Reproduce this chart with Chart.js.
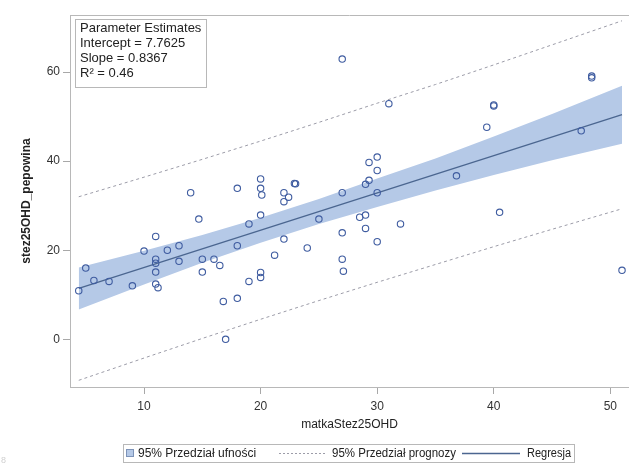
<!DOCTYPE html>
<html>
<head>
<meta charset="utf-8">
<script src="https://cdn.jsdelivr.net/npm/chart.js@4.4.1/dist/chart.umd.min.js"></script>
<style>
  body { margin: 0; background: #fff; }
</style>
</head>
<body>
<canvas id="regChart" width="629" height="467"></canvas>
<script>
// tick labels
const xTicks = [10, 20, 30, 40, 50]
const yTicks = [0, 20, 40, 60]

const obsX = [14.0, 18.0, 14.7, 11.0, 19.0, 10.0, 12.0, 13.0, 18.0, 11.0, 11.0, 13.0, 15.0, 16.0, 16.5, 5.0,
              11.0, 15.0, 5.7, 7.0, 4.4, 9.0, 11.0, 11.2, 19.0, 16.8, 18.0, 17.0,
              27.0, 31.0, 30.0, 29.3, 30.0, 29.3, 29.0, 20.0, 20.0, 20.1, 23.0, 22.9, 22.0, 22.4, 22.0, 27.0,
              30.0, 20.0, 25.0, 28.5, 29.0, 32.0, 27.0, 29.0, 22.0, 30.0, 24.0, 21.2, 27.0, 27.1, 20.0, 20.0,
              48.4, 48.4, 40.0, 40.0, 39.4, 47.5, 36.8, 40.5, 51.0]
const obsY = [32.9, 33.9, 27.0, 23.1, 25.9, 19.8, 20.0, 21.0, 21.0, 18.0, 17.1, 17.5, 18.0, 18.0, 16.6, 16.0,
              15.1, 15.1, 13.2, 13.0, 10.9, 12.0, 12.4, 11.6, 13.0, 8.5, 9.2, 0.0,
              62.9, 52.9, 40.9, 39.7, 37.9, 35.7, 34.8, 36.0, 33.9, 32.4, 34.9, 35.0, 32.9, 31.9, 30.9, 32.9,
              32.9, 27.9, 27.0, 27.4, 27.9, 25.9, 23.9, 24.9, 22.5, 21.9, 20.5, 18.9, 18.0, 15.3, 15.0, 13.9,
              58.7, 59.1, 52.4, 52.6, 47.6, 46.8, 36.7, 28.5, 15.5]

// fitted line and bands
const regX = [4.4, 51.0]
const regY = [11.44, 50.43]
const bandX  = [4.4, 10, 15, 20, 25, 30, 35, 40, 45, 51]
const ciHigh = [16.1, 19.9, 23.4, 27.3, 31.5, 36.1, 40.6, 45.5, 50.6, 56.9]
const ciLow  = [6.7, 12.3, 17.2, 21.7, 25.9, 29.7, 33.4, 36.9, 40.2, 43.9]
const piHigh = [32.0, 36.4, 40.4, 44.5, 48.7, 53.0, 57.2, 61.6, 66.1, 71.5]
const piLow  = [-9.2, -4.2, 0.2, 4.5, 8.7, 12.8, 16.8, 20.8, 24.7, 29.3]

const statLines = ['Parameter Estimates', 'Intercept = 7.7625', 'Slope = 0.8367', 'R\u00b2 = 0.46']

const FONT = '"Liberation Sans", Arial, sans-serif'
const bandColor = '#b5c9e7'
const lineColor = '#4b6690'
const dashColor = '#9c9ca8'

const pts = (xs, ys) => xs.map((x, i) => ({x: x, y: ys[i]}))

const decor = {
    id: 'decor',
    afterDraw(chart) {
        const ctx = chart.ctx
        const a = chart.chartArea
        ctx.save()
        // frame top
        ctx.strokeStyle = '#b8b8b8'
        ctx.lineWidth = 1
        ctx.beginPath()
        ctx.moveTo(a.left, a.top + 0.5)
        ctx.lineTo(a.right, a.top + 0.5)
        ctx.stroke()

        // inset with parameter estimates
        ctx.fillStyle = '#fff'
        ctx.fillRect(75, 19, 131, 68)
        ctx.strokeStyle = '#b8b8b8'
        ctx.strokeRect(75.5, 19.5, 131, 68)
        ctx.fillStyle = '#222'
        ctx.font = '13px ' + FONT
        ctx.textBaseline = 'middle'
        ctx.textAlign = 'left'
        statLines.forEach((t, i) => {
            ctx.fillText(t, 80, 28 + i * 15.3, 122)
        })

        // axis titles
        ctx.font = '12px ' + FONT
        ctx.textAlign = 'center'
        ctx.fillText('matkaStez25OHD', (a.left + a.right) / 2, 425)
        ctx.save()
        ctx.translate(27, (a.top + a.bottom) / 2)
        ctx.rotate(-Math.PI / 2)
        ctx.font = 'bold 12px ' + FONT
        ctx.fillText('stez25OHD_pepowina', 0, 0)
        ctx.restore()

        // legend
        const ly = 453.5
        ctx.strokeStyle = '#b8b8b8'
        ctx.strokeRect(123.5, 444.5, 451, 18)
        ctx.fillStyle = bandColor
        ctx.fillRect(126, 449, 8, 8)
        ctx.strokeStyle = '#7d93b8'
        ctx.strokeRect(126.5, 449.5, 7, 7)
        ctx.fillStyle = '#222'
        ctx.textAlign = 'left'
        ctx.fillText('95% Przedział ufności', 138, ly, 129)
        ctx.strokeStyle = dashColor
        ctx.setLineDash([2, 2])
        ctx.beginPath()
        ctx.moveTo(279, ly)
        ctx.lineTo(325, ly)
        ctx.stroke()
        ctx.setLineDash([])
        ctx.fillText('95% Przedział prognozy', 332, ly, 124)
        ctx.strokeStyle = lineColor
        ctx.lineWidth = 1.3
        ctx.beginPath()
        ctx.moveTo(462, ly)
        ctx.lineTo(520, ly)
        ctx.stroke()
        ctx.fillText('Regresja', 527, ly, 44)

        ctx.fillStyle = '#d0d0d0'
        ctx.font = '9px ' + FONT
        ctx.fillText('8', 1, 461)
        ctx.restore()
    }
}

const ctx = document.getElementById('regChart').getContext('2d')
const regChart = new Chart(ctx, {
    type: 'scatter',
    data: {
        datasets: [{
            label: 'obs',
            data: pts(obsX, obsY),
            pointRadius: 3.2,
            pointBorderWidth: 1.1,
            pointBorderColor: '#3f5ca0',
            pointBackgroundColor: 'rgba(0,0,0,0)',
            order: 0
        },
        {
            type: 'line',
            label: 'Regresja',
            data: pts(regX, regY),
            borderColor: lineColor,
            borderWidth: 1.3,
            pointRadius: 0,
            fill: false,
            order: 1
        },
        {
            type: 'line',
            label: 'pi high',
            data: pts(bandX, piHigh),
            borderColor: dashColor,
            borderWidth: 1,
            borderDash: [3, 3],
            pointRadius: 0,
            fill: false,
            order: 2
        },
        {
            type: 'line',
            label: 'pi low',
            data: pts(bandX, piLow),
            borderColor: dashColor,
            borderWidth: 1,
            borderDash: [3, 3],
            pointRadius: 0,
            fill: false,
            order: 2
        },
        {
            type: 'line',
            label: 'ci high',
            data: pts(bandX, ciHigh),
            borderWidth: 0,
            borderColor: 'rgba(0,0,0,0)',
            backgroundColor: bandColor,
            pointRadius: 0,
            fill: '+1',
            order: 3
        },
        {
            type: 'line',
            label: 'ci low',
            data: pts(bandX, ciLow),
            borderWidth: 0,
            borderColor: 'rgba(0,0,0,0)',
            pointRadius: 0,
            fill: false,
            order: 3
        }]
    },
    options: {
        responsive: false,
        animation: false,
        layout: { autoPadding: false, padding: { top: 15, left: 0, right: 0, bottom: 0 } },
        plugins: {
            legend: { display: false },
            tooltip: { enabled: false }
        },
        scales: {
            x: {
                type: 'linear',
                min: 3.65,
                max: 51.6,
                afterBuildTicks: (s) => { s.ticks = xTicks.map(v => ({value: v})) },
                afterFit: (s) => { s.height = 80 },
                grid: { drawOnChartArea: false, tickLength: 7, color: '#a8a8a8' },
                border: { color: '#b8b8b8' },
                ticks: { padding: 5, color: '#333', font: { family: FONT, size: 12 } }
            },
            y: {
                min: -10.7,
                max: 72.8,
                afterBuildTicks: (s) => { s.ticks = yTicks.map(v => ({value: v})) },
                afterFit: (s) => { s.width = 70 },
                grid: { drawOnChartArea: false, tickLength: 7, color: '#a8a8a8' },
                border: { color: '#b8b8b8' },
                ticks: { padding: 3, color: '#333', font: { family: FONT, size: 12 } }
            }
        }
    },
    plugins: [decor]
})
</script>
</body>
</html>
